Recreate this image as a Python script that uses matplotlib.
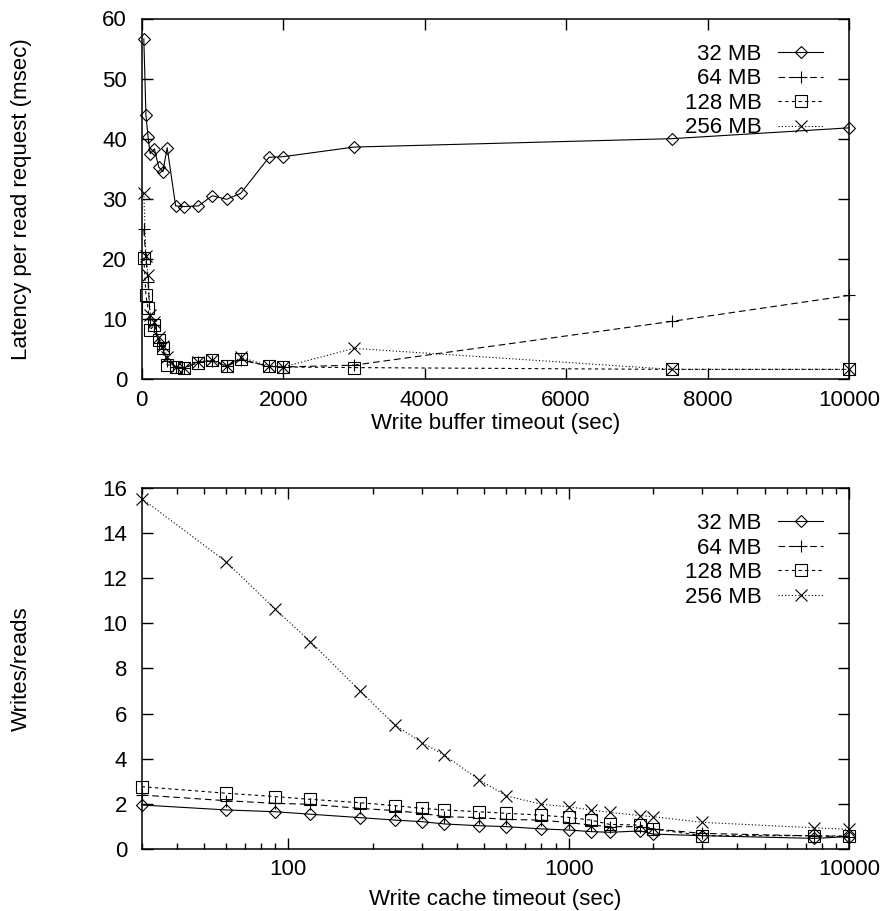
import matplotlib
matplotlib.use("Agg")
import matplotlib.pyplot as plt
from matplotlib.ticker import LogLocator, NullFormatter, FixedLocator, FixedFormatter

plt.rcParams['font.family'] = ['Liberation Sans', 'DejaVu Sans']

# ---- data ----
timeouts = [30, 60, 90, 120, 180, 240, 300, 360, 480, 600, 800, 1000, 1200, 1400, 1800, 2000, 3000, 7500, 10000]
labels = ["32 MB", "64 MB", "128 MB", "256 MB"]

latency_32 = [56.6, 43.9, 40.3, 37.5, 38.3, 35.3, 34.5, 38.5, 28.8, 28.7, 28.8, 30.5, 29.9, 30.9, 36.9, 37.0, 38.6, 40.0, 41.8]
latency_64 = [24.9, 20.0, 16.2, 10.0, 9.0, 6.0, 5.0, 3.0, 2.0, 1.8, 2.8, 3.0, 2.1, 3.2, 2.1, 2.0, 2.3, 9.6, 13.9]
latency_128 = [20.2, 13.9, 11.8, 8.2, 9.0, 6.5, 5.1, 2.4, 2.05, 1.9, 2.7, 3.2, 2.2, 3.3, 2.1, 2.0, 1.9, 1.6, 1.6]
latency_256 = [31.0, 20.4, 17.3, 10.7, 9.5, 7.0, 5.5, 3.7, 2.0, 1.8, 2.9, 3.1, 2.2, 3.6, 2.2, 2.0, 5.1, 1.6, 1.6]

ratio_32 = [1.95, 1.73, 1.65, 1.54, 1.39, 1.28, 1.21, 1.11, 1.03, 0.99, 0.89, 0.84, 0.77, 0.74, 0.80, 0.66, 0.59, 0.47, 0.55]
ratio_64 = [2.39, 2.14, 2.02, 1.98, 1.80, 1.70, 1.58, 1.43, 1.39, 1.31, 1.28, 1.17, 1.06, 0.99, 0.99, 0.89, 0.69, 0.58, 0.55]
ratio_128 = [2.76, 2.47, 2.32, 2.20, 2.05, 1.92, 1.80, 1.73, 1.65, 1.58, 1.50, 1.40, 1.28, 1.09, 1.06, 0.89, 0.59, 0.59, 0.57]
ratio_256 = [15.52, 12.72, 10.61, 9.18, 7.01, 5.49, 4.71, 4.16, 3.06, 2.35, 1.98, 1.87, 1.73, 1.62, 1.48, 1.43, 1.18, 0.94, 0.87]

top_xticks = [0, 2000, 4000, 6000, 8000, 10000]
top_yticks = [0, 10, 20, 30, 40, 50, 60]
bot_xticks = [100, 1000, 10000]
bot_xticklabels = ["100", "1000", "10000"]
bot_yticks = [0, 2, 4, 6, 8, 10, 12, 14, 16]

styles = [
    dict(marker='D', markersize=6.3, linestyle='-'),
    dict(marker='+', markersize=8.5, linestyle=(0, (6, 3.5))),
    dict(marker='s', markersize=8.3, linestyle=(0, (3, 3))),
    dict(marker='x', markersize=8.5, linestyle=(0, (1, 2))),
]

W, H = 886, 911
fig = plt.figure(figsize=(W / 100, H / 100), dpi=100)

def axes_px(l, t, r, b):
    return fig.add_axes([l / W, 1 - b / H, (r - l) / W, (b - t) / H])

ax1 = axes_px(141.7, 18.5, 849, 379)
ax2 = axes_px(141.7, 487.7, 849, 849)

FS = 16

def style_axis(ax, xpad):
    for s in ax.spines.values():
        s.set_linewidth(1.1)
    ax.tick_params(which='major', direction='in', length=8, width=1.0,
                   top=True, right=True, labelsize=FS)
    ax.tick_params(which='minor', direction='in', length=4.5, width=1.0,
                   top=True, right=True)
    ax.tick_params(axis='x', which='both', pad=xpad)
    ax.tick_params(axis='y', which='both', pad=10.5)

def draw(ax, series):
    for ys, st, lab in zip(series, styles, labels):
        ax.plot(timeouts, ys, color='black', linewidth=0.8, markerfacecolor='none',
                markeredgecolor='black', markeredgewidth=0.8, label=lab,
                clip_on=False, **st)
    ax.legend(loc='upper right', bbox_to_anchor=(0.963, 0.93), frameon=False,
              markerfirst=False, fontsize=FS, handlelength=2.0, handletextpad=0.75,
              labelspacing=0.16, borderpad=0, borderaxespad=0)

draw(ax1, [latency_32, latency_64, latency_128, latency_256])
ax1.set_xlim(0, 10000)
ax1.set_ylim(0, 60)
ax1.set_xticks(top_xticks)
ax1.set_yticks(top_yticks)
style_axis(ax1, 8)
ax1.set_xlabel("Write buffer timeout (sec)", fontsize=FS, va='top')
ax1.set_ylabel("Latency per read request (msec)", fontsize=FS)
ax1.xaxis.set_label_coords(0.5, -0.093)
ax1.yaxis.set_label_coords(-0.155, 0.5)

draw(ax2, [ratio_32, ratio_64, ratio_128, ratio_256])
ax2.set_xscale('log')
ax2.set_xlim(30, 10000)
ax2.set_ylim(0, 16)
ax2.xaxis.set_major_locator(FixedLocator(bot_xticks))
ax2.xaxis.set_major_formatter(FixedFormatter(bot_xticklabels))
ax2.xaxis.set_minor_locator(LogLocator(base=10, subs=range(2, 10), numticks=20))
ax2.xaxis.set_minor_formatter(NullFormatter())
ax2.set_yticks(bot_yticks)
style_axis(ax2, 7.5)
ax2.set_xlabel("Write cache timeout (sec)", fontsize=FS, va='top')
ax2.set_ylabel("Writes/reads", fontsize=FS)
ax2.xaxis.set_label_coords(0.5, -0.11)
ax2.yaxis.set_label_coords(-0.155, 0.5)

fig.savefig("out.png", dpi=100)
